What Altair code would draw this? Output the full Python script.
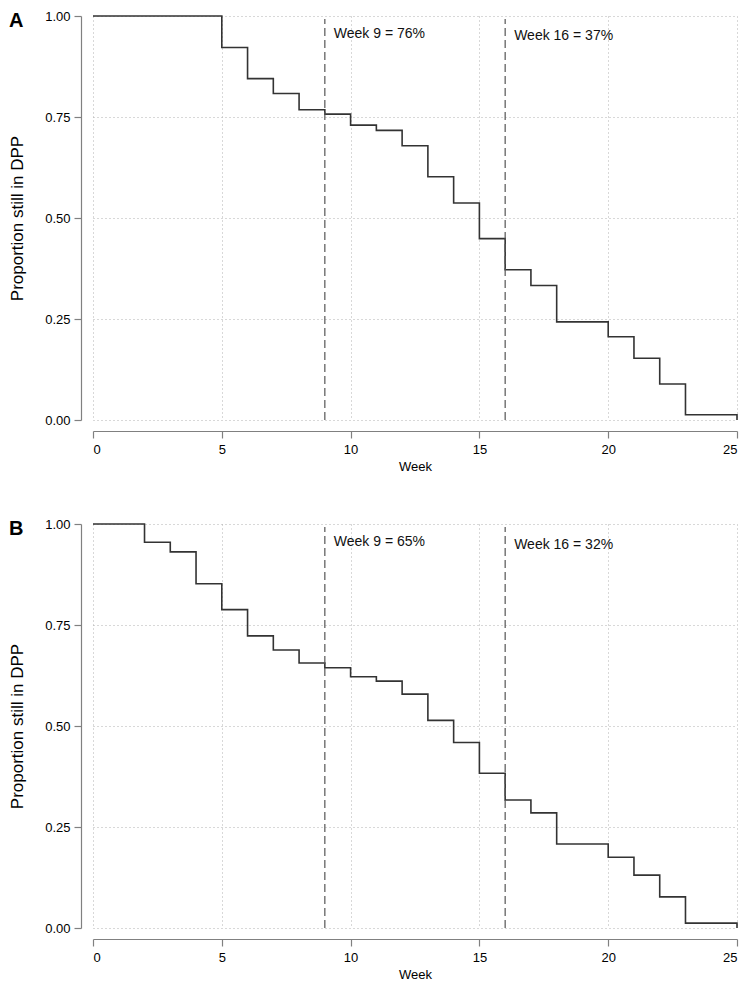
import altair as alt
import pandas as pd

# ---- data ----
WEEKS_A = [0, 5, 6, 7, 8, 9, 10, 11, 12, 13, 14, 15, 16, 17, 18, 20, 21, 22, 23, 25]
SURV_A = [1.000, 0.922, 0.845, 0.808, 0.768, 0.757, 0.730, 0.717, 0.679, 0.602,
          0.537, 0.449, 0.372, 0.333, 0.243, 0.206, 0.153, 0.089, 0.013, 0.000]

WEEKS_B = [0, 2, 3, 4, 5, 6, 7, 8, 9, 10, 11, 12, 13, 14, 15, 16, 17, 18, 20, 21, 22, 23, 25]
SURV_B = [1.000, 0.955, 0.931, 0.852, 0.788, 0.723, 0.688, 0.656, 0.644, 0.622, 0.611,
          0.579, 0.514, 0.459, 0.383, 0.317, 0.285, 0.208, 0.175, 0.131, 0.077, 0.012, 0.000]

MARK_WEEKS = [9, 16]
PCT_A = [76, 37]
PCT_B = [65, 32]
LABEL_Y_A = [0.956, 0.951]
LABEL_Y_B = [0.955, 0.949]

X_TICKS = [0, 5, 10, 15, 20, 25]
Y_TICKS = [0.0, 0.25, 0.5, 0.75, 1.0]
PANEL_LETTERS = ["A", "B"]

FONT = "Liberation Sans"
W = 644
H = 404


def panel(weeks, surv, pcts, label_y, letter):
    df = pd.DataFrame({"week": weeks, "prop": surv})
    ann = pd.DataFrame({
        "week": MARK_WEEKS,
        "prop": label_y,
        "label": [f"Week {w} = {p}%" for w, p in zip(MARK_WEEKS, pcts)],
    })

    x = alt.X(
        "week:Q",
        title="Week",
        scale=alt.Scale(domain=[0, 25], nice=False, zero=False),
        axis=alt.Axis(
            values=X_TICKS, format="d", offset=11, tickSize=7, labelPadding=5,
            titlePadding=4, titleFontSize=13, labelFontSize=13,
        ),
    )
    y = alt.Y(
        "prop:Q",
        title="Proportion still in DPP",
        scale=alt.Scale(domain=[0, 1], nice=False),
        axis=alt.Axis(
            values=Y_TICKS, format=".2f", offset=12, tickSize=7, labelPadding=4,
            titlePadding=18, titleFontSize=17, labelFontSize=13,
        ),
    )

    line = alt.Chart(df).mark_line(
        interpolate="step-after", color="#333333", strokeWidth=1.6
    ).encode(x=x, y=y)

    rules = alt.Chart(ann).mark_rule(
        color="#555555", strokeDash=[8, 4], strokeWidth=1.2
    ).encode(x=x, y=alt.value(H), y2=alt.value(3))

    texts = alt.Chart(ann).mark_text(
        align="left", baseline="middle", dx=9, fontSize=14, font=FONT, color="#111111"
    ).encode(x=x, y=y, text="label:N")

    letter_chart = alt.Chart(pd.DataFrame({"t": [letter]})).mark_text(
        align="left", baseline="middle", fontSize=20, fontWeight="bold", font=FONT,
        color="#000000",
    ).encode(x=alt.value(-84), y=alt.value(5), text="t:N")

    return alt.layer(line, rules, texts, letter_chart).properties(width=W, height=H)


top = panel(WEEKS_A, SURV_A, PCT_A, LABEL_Y_A, PANEL_LETTERS[0])
bottom = panel(WEEKS_B, SURV_B, PCT_B, LABEL_Y_B, PANEL_LETTERS[1])

chart = alt.vconcat(top, bottom, spacing=104, bounds="flush").properties(
    padding={"top": 2, "left": 0, "right": 0, "bottom": 0}
).configure_view(stroke=None).configure_axis(
    domainColor="#808080", tickColor="#808080", domainWidth=1.2, tickWidth=1.2,
    grid=True, gridColor="#b0b0b0", gridDash=[1, 3], gridWidth=1,
    labelFont=FONT, titleFont=FONT, labelColor="#000000", titleColor="#000000",
    titleFontWeight="normal",
)

chart.save("out.html", embed_options={"renderer": "svg", "actions": False})
